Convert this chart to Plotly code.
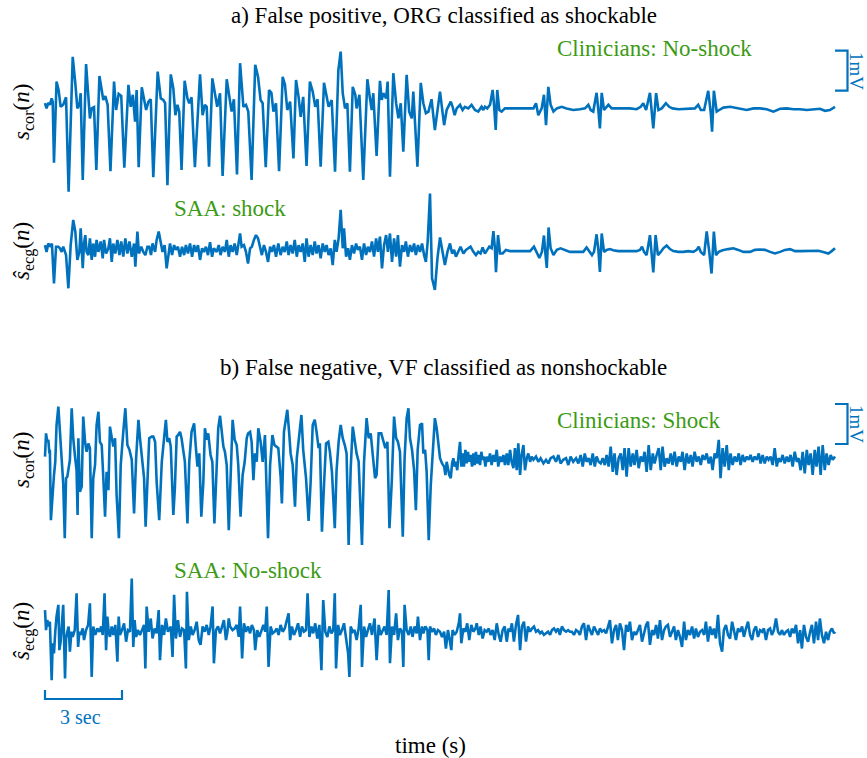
import plotly.graph_objects as go

BLUE = "#0072BD"
GREEN = "#3C9A14"
FONT = "Liberation Serif"
W, H = 867, 758

# ---- data: (time [s], amplitude [mV]) ----
a_cor = [
    (0.00, 0.12), (0.06, -0.01), (0.13, 0.13), (0.19, 0.08), (0.26, 0.24), (0.30, 0.16), (0.35, -1.37), (0.45, 0.66), (0.53, 0.45), (0.61, 0.03),
    (0.71, 0.08), (0.82, 0.27), (0.92, -2.09), (1.08, 1.28), (1.18, 0.62), (1.26, -0.01), (1.34, 0.08), (1.39, 0.37), (1.47, -1.80), (1.60, 1.10),
    (1.69, 0.28), (1.75, -0.26), (1.82, -0.01), (1.91, 0.02), (2.00, -1.55), (2.12, 0.80), (2.21, 0.45), (2.27, 0.20), (2.35, 0.30), (2.44, 0.08),
    (2.55, -1.58), (2.69, 0.66), (2.77, -0.05), (2.87, 0.35), (2.97, 0.30), (3.09, -1.49), (3.25, 0.58), (3.34, 0.03), (3.42, 0.33), (3.51, -0.34),
    (3.57, 0.45), (3.65, -1.48), (3.77, 0.52), (3.86, 0.24), (3.94, -0.05), (4.03, 0.16), (4.12, 0.22), (4.22, -1.73), (4.39, 0.91), (4.51, 0.24),
    (4.61, 0.20), (4.68, 0.12), (4.77, -1.93), (4.90, 0.84), (5.00, 0.49), (5.08, -0.18), (5.16, 0.08), (5.23, -0.09), (5.32, -1.55), (5.44, 0.68),
    (5.55, 0.24), (5.62, 0.12), (5.71, 0.27), (5.84, -1.48), (6.04, 0.84), (6.14, -0.18), (6.23, 0.08), (6.30, 0.03), (6.39, -1.47), (6.52, 0.74),
    (6.62, 0.33), (6.71, 0.03), (6.82, 0.37), (6.92, -1.70), (7.08, 0.72), (7.18, 0.33), (7.27, -0.09), (7.36, 0.22), (7.48, -1.66), (7.60, 1.12),
    (7.73, 0.03), (7.83, 0.08), (7.92, -0.09), (8.05, -1.80), (8.19, 1.08), (8.30, 0.78), (8.40, 0.20), (8.48, 0.12), (8.60, -1.48), (8.73, 0.45),
    (8.82, 0.38), (8.90, -0.09), (9.00, 0.12), (9.12, -1.58), (9.26, 0.78), (9.35, 0.58), (9.44, -0.05), (9.55, 0.16), (9.68, -1.26), (9.78, 0.70),
    (9.88, 0.28), (9.96, -0.22), (10.06, 0.28), (10.19, -1.45), (10.32, 0.66), (10.43, 0.41), (10.53, 0.03), (10.62, 0.22), (10.74, -1.47), (10.87, 0.63),
    (10.97, 0.28), (11.05, 0.03), (11.17, 0.20), (11.30, -1.59), (11.43, 0.95), (11.52, 1.41), (11.60, 0.37), (11.69, -0.01), (11.78, 0.12), (11.88, -1.59),
    (11.99, 0.53), (12.09, 0.33), (12.14, -0.01), (12.25, 0.33), (12.40, -1.80), (12.56, 0.72), (12.66, 0.24), (12.73, -0.05), (12.79, 0.37), (12.92, -1.20),
    (13.05, 0.68), (13.12, 0.20), (13.18, 0.37), (13.29, 0.24), (13.35, 0.66), (13.44, -1.72), (13.57, 0.87), (13.68, 0.12), (13.77, -0.26), (13.86, 0.12),
    (13.96, -1.09), (14.09, 0.83), (14.19, -0.09), (14.29, -0.26), (14.35, 0.41), (14.51, -1.47), (14.64, 0.63), (14.74, 0.12), (14.84, -0.13), (14.94, -0.09),
    (15.06, 0.22), (15.19, -0.55),
    (15.39, 0.41), (15.47, 0.03), (15.55, -0.43), (15.65, -0.05), (15.81, 0.16), (15.88, 0.03), (15.96, -0.18), (16.04, -0.01), (16.17, 0.08), (16.27, -0.05),
    (16.36, 0.03), (16.49, -0.01), (16.62, 0.08), (16.75, -0.05), (16.88, -0.09), (17.01, 0.03), (17.08, -0.05), (17.14, 0.03), (17.23, -0.01), (17.34, 0.08),
    (17.44, 0.45), (17.49, 0.12), (17.56, -0.55), (17.62, 0.45), (17.70, -0.05), (17.79, -0.09), (17.92, -0.01), (18.12, -0.01), (18.38, -0.01), (18.77, -0.01),
    (19.03, -0.01), (19.13, 0.12), (19.22, -0.18), (19.35, -0.01), (19.44, 0.33), (19.52, -0.43), (19.61, 0.53), (19.70, 0.08), (19.81, -0.09), (19.94, -0.01),
    (20.13, 0.03), (20.32, -0.01), (20.58, -0.05), (20.84, -0.03), (21.04, -0.01), (21.17, 0.08), (21.26, -0.05), (21.36, -0.09), (21.49, 0.38), (21.56, -0.05),
    (21.62, -0.51), (21.69, 0.38), (21.78, -0.05), (21.95, 0.08), (22.08, -0.01), (22.27, -0.01), (22.53, -0.01), (22.79, -0.01), (23.05, -0.03), (23.21, 0.03),
    (23.31, 0.12), (23.42, -0.05), (23.57, 0.38), (23.64, -0.18), (23.70, -0.51), (23.81, 0.37), (23.90, -0.05), (24.03, -0.01), (24.19, 0.12), (24.32, 0.03),
    (24.45, -0.01), (24.68, -0.03), (24.94, -0.02), (25.13, -0.03), (25.32, -0.01), (25.45, 0.08), (25.55, -0.05), (25.68, -0.05), (25.84, 0.43), (25.94, -0.13),
    (25.99, -0.59), (26.06, 0.43), (26.17, -0.09), (26.27, -0.05), (26.43, 0.01), (26.69, 0.03), (26.88, 0.01), (27.08, -0.03), (27.34, -0.05), (27.60, -0.01),
    (27.86, -0.01), (28.12, -0.03), (28.38, -0.09), (28.64, -0.02), (28.90, -0.01), (29.16, -0.03), (29.42, -0.03), (29.68, -0.05), (29.94, -0.03), (30.19, -0.02),
    (30.39, -0.07), (30.58, -0.05), (30.78, 0.03),
]

a_ecg = [
    (0.00, 0.14), (0.06, -0.03), (0.13, 0.18), (0.22, 0.10), (0.27, 0.18), (0.35, -0.82), (0.43, 0.10), (0.52, 0.10), (0.58, 0.06), (0.65, -0.03),
    (0.71, 0.10), (0.82, -0.11), (0.91, -0.94), (1.00, 0.14), (1.10, 0.77), (1.18, 0.48), (1.26, -0.23), (1.34, -0.03), (1.39, 0.56), (1.47, -0.44),
    (1.52, 0.18), (1.57, 0.39), (1.62, -0.03), (1.69, -0.11), (1.75, 0.31), (1.82, -0.23), (1.88, 0.18), (1.95, -0.15), (2.01, 0.27), (2.08, -0.03),
    (2.17, 0.23), (2.25, -0.19), (2.30, 0.27), (2.38, -0.07), (2.47, 0.06), (2.53, 0.31), (2.60, -0.28), (2.66, 0.18), (2.74, -0.07), (2.82, 0.27),
    (2.90, -0.11), (2.97, 0.23), (3.05, -0.15), (3.13, 0.31), (3.21, -0.07), (3.29, 0.23), (3.38, -0.15), (3.47, 0.18), (3.52, -0.40), (3.60, 0.48),
    (3.66, -0.07), (3.75, 0.10), (3.83, -0.03), (3.91, -0.11), (3.99, 0.10), (4.06, 0.10), (4.13, -0.11), (4.19, 0.18), (4.29, -0.03), (4.35, 0.27),
    (4.43, 0.48), (4.51, 0.23), (4.58, -0.03), (4.66, 0.14), (4.74, -0.44), (4.81, -0.11), (4.87, 0.18), (4.95, -0.11), (5.03, 0.14), (5.10, 0.02),
    (5.18, 0.10), (5.26, -0.15), (5.34, 0.10), (5.42, -0.11), (5.49, 0.14), (5.57, -0.07), (5.65, 0.18), (5.73, -0.15), (5.81, 0.14), (5.88, -0.03),
    (5.96, 0.14), (6.04, -0.23), (6.12, 0.06), (6.19, -0.03), (6.27, 0.10), (6.35, -0.11), (6.43, 0.21), (6.51, -0.15), (6.58, 0.06), (6.69, -0.03),
    (6.77, 0.14), (6.84, -0.11), (6.92, 0.10), (7.01, -0.03), (7.08, 0.27), (7.16, -0.15), (7.23, 0.14), (7.31, -0.03), (7.39, 0.18), (7.47, -0.11),
    (7.55, 0.31), (7.60, 0.43), (7.66, 0.10), (7.75, 0.14), (7.83, -0.03), (7.91, -0.32), (7.99, 0.06), (8.06, 0.10), (8.14, 0.27), (8.22, 0.39),
    (8.30, 0.31), (8.38, 0.10), (8.45, -0.11), (8.53, 0.14), (8.61, -0.03), (8.69, -0.28), (8.77, 0.10), (8.84, -0.03), (8.92, 0.14), (9.00, -0.15),
    (9.09, 0.18), (9.18, -0.11), (9.26, 0.10), (9.34, -0.03), (9.42, 0.23), (9.49, -0.11), (9.57, 0.14), (9.65, -0.07), (9.73, 0.27), (9.81, -0.15),
    (9.88, 0.14), (9.96, -0.03), (10.04, 0.18), (10.12, -0.28), (10.19, 0.31), (10.27, -0.15), (10.35, 0.14), (10.43, -0.11), (10.51, 0.23), (10.58, -0.07),
    (10.66, 0.14), (10.74, -0.19), (10.82, 0.18), (10.90, -0.03), (10.97, 0.14), (11.05, -0.11), (11.13, 0.06), (11.21, -0.36), (11.29, 0.27), (11.36, -0.03),
    (11.44, 0.31), (11.52, 1.02), (11.60, 0.06), (11.65, 0.56), (11.73, -0.15), (11.81, 0.06), (11.88, -0.23), (11.96, 0.14), (12.04, -0.07), (12.12, 0.18),
    (12.19, 0.02), (12.27, 0.10), (12.35, -0.23), (12.43, 0.18), (12.51, -0.11), (12.58, 0.10), (12.66, -0.03), (12.74, 0.23), (12.82, -0.15), (12.90, 0.31),
    (12.97, -0.03), (13.05, 0.35), (13.13, -0.44), (13.21, 0.14), (13.29, 0.39), (13.36, -0.03), (13.44, 0.43), (13.52, -0.28), (13.60, 0.31), (13.68, -0.15),
    (13.75, 0.39), (13.83, -0.40), (13.91, 0.14), (13.99, -0.03), (14.06, 0.23), (14.14, -0.15), (14.22, 0.14), (14.30, -0.03), (14.38, 0.18), (14.45, -0.11),
    (14.53, 0.14), (14.61, -0.03), (14.69, 0.18), (14.77, -0.11), (14.84, -0.28), (14.91, 0.23), (15.00, 1.43), (15.08, -0.69),
    (15.19, -0.98), (15.29, -0.19), (15.39, 0.33), (15.49, -0.03), (15.58, -0.36), (15.68, -0.03), (15.78, 0.18), (15.86, -0.07), (15.94, 0.02), (16.01, -0.15),
    (16.12, 0.02), (16.19, 0.10), (16.30, -0.07), (16.40, 0.02), (16.49, 0.06), (16.58, 0.10), (16.69, -0.03), (16.79, -0.11), (16.88, -0.03), (16.97, -0.07),
    (17.05, 0.08), (17.14, -0.07), (17.23, 0.02), (17.31, 0.10), (17.40, 0.06), (17.47, 0.49), (17.53, 0.06), (17.57, -0.54), (17.65, 0.39), (17.73, -0.07),
    (17.83, -0.07), (17.96, 0.02), (18.12, -0.01), (18.38, -0.01), (18.64, -0.01), (18.90, -0.01), (19.05, 0.10), (19.16, -0.07), (19.26, -0.18), (19.36, -0.03),
    (19.44, 0.38), (19.49, -0.03), (19.55, -0.43), (19.62, 0.58), (19.70, 0.06), (19.81, -0.11), (19.94, 0.02), (20.09, 0.06), (20.26, 0.02), (20.45, -0.03),
    (20.71, -0.03), (20.97, -0.03), (21.10, 0.08), (21.21, -0.03), (21.31, -0.11), (21.39, -0.03), (21.49, 0.41), (21.56, 0.02), (21.62, -0.53), (21.69, 0.43),
    (21.78, -0.03), (21.88, 0.02), (22.01, 0.04), (22.14, 0.01), (22.34, -0.01), (22.60, -0.01), (22.86, -0.01), (23.05, -0.01), (23.18, 0.02), (23.26, 0.10),
    (23.34, -0.03), (23.44, -0.11), (23.57, 0.39), (23.62, -0.03), (23.70, -0.54), (23.79, 0.39), (23.88, -0.11), (23.99, -0.03), (24.09, 0.06), (24.22, 0.13),
    (24.35, 0.04), (24.48, -0.01), (24.68, -0.03), (24.87, -0.03), (25.06, -0.01), (25.26, -0.03), (25.39, 0.02), (25.47, 0.10), (25.55, -0.03), (25.68, -0.11),
    (25.78, 0.48), (25.88, -0.03), (25.97, -0.57), (26.06, 0.48), (26.14, -0.11), (26.25, -0.03), (26.40, 0.01), (26.62, 0.04), (26.82, 0.06), (27.01, 0.02),
    (27.21, -0.03), (27.47, -0.03), (27.66, 0.02), (27.86, 0.03), (28.05, 0.02), (28.25, -0.03), (28.44, -0.07), (28.64, -0.03), (28.83, 0.02), (29.03, 0.04),
    (29.22, -0.01), (29.42, -0.01), (29.68, -0.01), (29.94, 0.00), (30.13, 0.00), (30.32, -0.03), (30.52, -0.07), (30.65, -0.01), (30.78, 0.06),
]

b_cor = [
    (0.00, 0.11), (0.04, 0.69), (0.09, 0.48), (0.13, 0.53), (0.17, 0.19), (0.19, 0.28), (0.23, -1.48), (0.30, -0.68), (0.35, -0.35), (0.40, -0.02),
    (0.45, 0.90), (0.52, 1.36), (0.58, 0.82), (0.65, 0.15), (0.71, -0.56), (0.77, -1.93), (0.82, -0.43), (0.87, -0.39), (0.94, -0.10), (0.97, 0.03),
    (1.04, 1.32), (1.10, 0.57), (1.17, 0.11), (1.23, -0.23), (1.27, -1.35), (1.30, 0.57), (1.36, -0.77), (1.43, -0.64), (1.49, 1.11), (1.56, 0.48),
    (1.62, 0.23), (1.69, 0.44), (1.75, 0.32), (1.82, -1.93), (1.88, -0.43), (1.95, -0.10), (2.01, 0.90), (2.08, 1.23), (2.14, 0.48), (2.21, 0.40),
    (2.27, -0.39), (2.34, -1.39), (2.40, -0.27), (2.47, -0.73), (2.53, 0.86), (2.60, 0.57), (2.66, 0.36), (2.73, 0.57), (2.79, -0.85), (2.88, -1.93),
    (2.95, -0.10), (3.05, 0.73), (3.13, 1.32), (3.21, 0.40), (3.29, 0.28), (3.38, 0.03), (3.47, -1.31), (3.55, 0.07), (3.64, 1.03), (3.70, 0.57),
    (3.78, -0.02), (3.86, -0.43), (3.92, -1.64), (3.99, -0.68), (4.06, 0.57), (4.16, 0.61), (4.22, 0.61), (4.29, 0.48), (4.35, -0.52), (4.45, -1.48),
    (4.55, -0.02), (4.64, 0.57), (4.71, 1.03), (4.77, 0.48), (4.84, 0.57), (4.90, 0.36), (5.00, -1.35), (5.06, -0.68), (5.13, 0.61), (5.19, 0.65),
    (5.26, 0.73), (5.32, 0.57), (5.39, 0.23), (5.45, -0.02), (5.55, -1.56), (5.62, -0.02), (5.71, 0.73), (5.81, 0.94), (5.88, 0.32), (5.94, -0.14),
    (6.01, 0.19), (6.09, -1.39), (6.17, -0.52), (6.23, 0.82), (6.30, 0.53), (6.36, 0.69), (6.45, 0.15), (6.52, -0.02), (6.60, -1.56), (6.69, -0.18),
    (6.75, 0.82), (6.82, 1.13), (6.88, 0.78), (6.95, 0.36), (7.01, 0.23), (7.08, -0.10), (7.16, -1.73), (7.23, -0.52), (7.31, 1.03), (7.39, 0.53),
    (7.47, 0.40), (7.53, -0.10), (7.62, -1.39), (7.70, -0.35), (7.78, -0.02), (7.86, 0.57), (7.91, 0.69), (7.99, 0.73), (8.05, 0.48), (8.12, -0.48),
    (8.18, 0.19), (8.25, -0.02), (8.31, 0.82), (8.40, 0.48), (8.48, -0.02), (8.57, 0.65), (8.69, -1.93), (8.77, -0.10), (8.86, 0.65), (8.94, 0.40),
    (9.00, 0.36), (9.09, 0.32), (9.18, -0.39), (9.23, -1.06), (9.31, 0.73), (9.39, 1.07), (9.44, 1.28), (9.51, 0.73), (9.57, 0.19), (9.65, -0.10),
    (9.74, -1.14), (9.81, 0.07), (9.91, 0.65), (9.99, 1.15), (10.06, 0.28), (10.17, -0.43), (10.27, -1.50), (10.35, -0.52), (10.43, 0.90), (10.51, 1.03),
    (10.58, 0.73), (10.66, 0.32), (10.71, 0.44), (10.79, -1.77), (10.87, -0.60), (10.95, 0.44), (11.04, 0.48), (11.10, 0.23), (11.18, -0.27), (11.29, -1.68),
    (11.36, -0.23), (11.44, 0.48), (11.52, 0.90), (11.60, 0.57), (11.68, 0.40), (11.75, 0.19), (11.83, -2.10), (11.91, -0.18), (11.99, 0.86), (12.06, 0.48),
    (12.14, 0.19), (12.22, -0.02), (12.35, -2.10), (12.43, -0.02), (12.53, 1.07), (12.61, 0.57), (12.69, 0.69), (12.77, 0.15), (12.86, -0.43), (12.92, -0.35),
    (13.00, 0.69), (13.10, 0.69), (13.18, 0.53), (13.26, 0.32), (13.34, 0.48), (13.42, -1.68), (13.51, -0.52), (13.60, 1.11), (13.68, 0.57), (13.75, 0.48),
    (13.83, 0.23), (13.94, -1.89), (14.01, 0.07), (14.09, 1.07), (14.16, 1.32), (14.22, 0.57), (14.30, 0.28), (14.38, -0.23), (14.45, -1.23), (14.52, 0.28),
    (14.61, 0.90), (14.69, 0.94), (14.74, 0.19), (14.81, 0.28), (14.87, -0.27), (14.95, -1.98), (15.03, -0.60), (15.10, 0.23), (15.19, 1.07),
    (15.26, 0.82), (15.32, 0.40), (15.39, 0.07), (15.47, -0.06), (15.55, -0.14), (15.60, -0.35), (15.65, -0.02), (15.70, -0.18), (15.75, -0.35), (15.81, -0.43),
    (15.86, -0.06), (15.91, 0.07), (15.96, -0.14), (16.01, -0.02), (16.06, -0.23), (16.12, 0.19), (16.17, 0.48), (16.22, -0.14), (16.27, 0.19), (16.32, -0.14),
    (16.38, 0.28), (16.43, -0.06), (16.48, 0.23), (16.53, -0.02), (16.58, 0.15), (16.64, -0.14), (16.69, 0.19), (16.74, -0.10), (16.79, 0.23), (16.84, -0.06),
    (16.90, 0.15), (16.95, -0.10), (17.00, 0.23), (17.05, 0.03), (17.10, 0.11), (17.16, -0.14), (17.21, 0.11), (17.27, -0.02), (17.34, 0.19), (17.40, -0.10),
    (17.47, 0.15), (17.53, -0.02), (17.60, 0.28), (17.66, -0.14), (17.73, 0.11), (17.79, -0.02), (17.86, 0.15), (17.92, -0.10), (17.99, 0.19), (18.05, -0.10),
    (18.12, 0.28), (18.18, -0.02), (18.25, -0.18), (18.31, 0.32), (18.38, -0.23), (18.44, 0.44), (18.51, -0.35), (18.57, 0.15), (18.64, 0.40), (18.70, -0.23),
    (18.77, 0.07), (18.83, 0.19), (18.90, -0.02), (18.96, 0.11), (19.03, 0.03), (19.13, 0.11), (19.22, -0.02), (19.31, 0.07), (19.42, -0.06), (19.52, 0.03),
    (19.61, -0.06), (19.70, 0.07), (19.81, 0.11), (19.91, -0.02), (20.00, 0.15), (20.09, -0.06), (20.19, 0.03), (20.30, 0.07), (20.39, -0.10), (20.48, 0.11),
    (20.58, -0.02), (20.69, 0.07), (20.78, -0.06), (20.87, 0.15), (20.95, -0.14), (21.03, 0.19), (21.10, -0.02), (21.18, 0.07), (21.26, -0.10), (21.34, 0.19),
    (21.42, -0.14), (21.49, 0.11), (21.57, -0.02), (21.65, -0.06), (21.73, 0.07), (21.81, -0.10), (21.88, 0.15), (21.96, -0.14), (22.04, 0.36), (22.12, -0.27),
    (22.19, 0.19), (22.27, -0.35), (22.35, 0.07), (22.43, 0.19), (22.51, -0.23), (22.58, 0.32), (22.66, -0.39), (22.74, 0.32), (22.82, -0.14), (22.90, 0.19),
    (22.97, -0.10), (23.05, 0.28), (23.13, -0.18), (23.21, 0.11), (23.29, -0.02), (23.36, 0.23), (23.44, -0.27), (23.52, 0.40), (23.60, -0.23), (23.68, 0.19),
    (23.75, -0.06), (23.83, 0.15), (23.91, 0.32), (23.99, -0.23), (24.06, 0.36), (24.14, -0.14), (24.22, 0.07), (24.30, -0.06), (24.38, 0.19), (24.45, -0.10),
    (24.53, 0.23), (24.61, -0.14), (24.69, 0.11), (24.77, -0.02), (24.84, 0.23), (24.92, -0.23), (25.00, 0.19), (25.08, -0.06), (25.16, 0.15), (25.23, -0.14),
    (25.31, 0.23), (25.39, -0.02), (25.47, 0.11), (25.55, -0.10), (25.62, 0.15), (25.70, 0.03), (25.78, 0.19), (25.86, -0.06), (25.94, 0.11), (26.01, -0.23),
    (26.09, 0.19), (26.17, 0.07), (26.25, 0.53), (26.32, -0.43), (26.40, 0.32), (26.48, -0.14), (26.56, 0.40), (26.64, -0.23), (26.71, 0.19), (26.79, -0.10),
    (26.87, 0.11), (26.95, -0.02), (27.03, 0.19), (27.10, -0.10), (27.18, 0.15), (27.26, -0.02), (27.34, 0.11), (27.42, 0.03), (27.49, 0.15), (27.57, -0.02),
    (27.65, 0.11), (27.73, 0.03), (27.81, 0.19), (27.88, -0.06), (27.96, 0.15), (28.04, -0.06), (28.12, 0.11), (28.19, 0.03), (28.27, 0.11), (28.35, -0.10),
    (28.43, 0.32), (28.51, -0.14), (28.58, 0.07), (28.66, -0.02), (28.74, 0.15), (28.82, -0.06), (28.90, 0.11), (28.97, -0.02), (29.05, 0.15), (29.13, -0.14),
    (29.21, 0.23), (29.29, -0.02), (29.36, 0.07), (29.44, -0.23), (29.52, 0.23), (29.60, -0.31), (29.68, 0.28), (29.75, -0.10), (29.83, 0.19), (29.91, -0.35),
    (29.99, 0.28), (30.06, -0.14), (30.14, 0.36), (30.22, -0.35), (30.30, 0.40), (30.38, -0.23), (30.45, 0.19), (30.53, -0.10), (30.61, 0.15), (30.69, 0.03),
    (30.78, 0.11),
]

b_ecg = [
    (0.00, 0.54), (0.04, 0.04), (0.09, 0.29), (0.14, 0.13), (0.19, 0.25), (0.26, -1.21), (0.30, -0.29), (0.35, -0.54), (0.40, 0.00), (0.45, 0.38),
    (0.52, 0.67), (0.56, -0.46), (0.61, -0.25), (0.65, 0.17), (0.71, 0.67), (0.78, -1.17), (0.82, -0.17), (0.87, 0.00), (0.92, 0.13), (0.97, -0.50),
    (1.03, 0.00), (1.08, -0.13), (1.16, 0.04), (1.23, 0.96), (1.29, -0.38), (1.34, 0.00), (1.39, -0.08), (1.47, 0.08), (1.52, -0.21), (1.60, 0.04),
    (1.68, 0.17), (1.75, 0.71), (1.82, -1.13), (1.88, 0.13), (1.96, -0.08), (2.04, 0.08), (2.12, 0.00), (2.19, 0.13), (2.25, -0.08), (2.32, 0.96),
    (2.38, -0.46), (2.43, 0.38), (2.48, 0.00), (2.53, -0.13), (2.60, 0.13), (2.66, -0.08), (2.74, 0.17), (2.82, -0.75), (2.87, 0.38), (2.92, -0.08),
    (3.00, 0.04), (3.08, 0.21), (3.16, -0.25), (3.23, 0.04), (3.31, 0.00), (3.38, 1.33), (3.44, -0.38), (3.49, 0.29), (3.55, -0.13), (3.62, 0.04),
    (3.70, -0.08), (3.78, 0.04), (3.86, 0.17), (3.91, -0.92), (3.96, 0.63), (4.04, 0.00), (4.12, 0.33), (4.19, -0.17), (4.27, 0.08), (4.35, -0.04),
    (4.43, 0.54), (4.48, -0.71), (4.56, 0.17), (4.64, -0.08), (4.71, 0.33), (4.79, 0.00), (4.90, 0.13), (4.97, -0.63), (5.03, 0.92), (5.10, -0.17),
    (5.18, 0.29), (5.26, -0.13), (5.34, 0.08), (5.42, 0.04), (5.49, -0.92), (5.53, 1.00), (5.60, -0.21), (5.68, 0.13), (5.75, -0.08), (5.83, 0.04),
    (5.91, 0.25), (5.99, -0.21), (6.06, -0.33), (6.14, 0.13), (6.22, 0.00), (6.30, 0.17), (6.38, -0.08), (6.45, 0.13), (6.53, 0.63), (6.58, -0.79),
    (6.66, 0.04), (6.74, 0.13), (6.82, -0.04), (6.90, 0.13), (6.97, 0.29), (7.05, -0.21), (7.10, -0.04), (7.16, 0.33), (7.21, 0.13), (7.31, 0.04),
    (7.39, 0.08), (7.47, 0.17), (7.55, -0.13), (7.60, 0.63), (7.68, -0.67), (7.75, 0.21), (7.83, 0.00), (7.91, 0.13), (7.99, -0.04), (8.06, 0.17),
    (8.14, 0.04), (8.19, -0.46), (8.27, 0.04), (8.35, -0.13), (8.43, 0.04), (8.51, 0.17), (8.58, 0.00), (8.64, 0.63), (8.71, -0.88), (8.79, 0.13),
    (8.87, -0.04), (8.95, 0.00), (9.03, 0.08), (9.10, -0.08), (9.18, 0.17), (9.26, 0.00), (9.34, 0.08), (9.42, 0.29), (9.49, 0.46), (9.55, -0.21),
    (9.62, 0.13), (9.70, -0.08), (9.78, 0.04), (9.86, 0.21), (9.94, -0.13), (10.01, 0.13), (10.09, 0.00), (10.17, 0.04), (10.23, 0.96), (10.30, -0.13),
    (10.38, 0.13), (10.45, -0.04), (10.53, 0.21), (10.61, -0.17), (10.69, 0.17), (10.77, -0.96), (10.84, 0.79), (10.92, 0.00), (11.00, -0.13), (11.08, 0.13),
    (11.16, -0.04), (11.23, 0.04), (11.29, 0.96), (11.34, -0.92), (11.42, 0.17), (11.49, -0.08), (11.57, 0.04), (11.65, 0.21), (11.73, -0.13), (11.81, -0.54),
    (11.86, -1.13), (11.91, 0.13), (11.99, 0.00), (12.06, 0.04), (12.14, -0.21), (12.22, 0.08), (12.30, 0.67), (12.35, -0.88), (12.43, 0.13), (12.51, -0.13),
    (12.58, 0.04), (12.66, 0.21), (12.74, -0.08), (12.84, 0.33), (12.92, -0.71), (13.00, 0.17), (13.08, -0.08), (13.16, 0.04), (13.23, 0.13), (13.31, -0.08),
    (13.39, 1.04), (13.44, -0.79), (13.52, 0.13), (13.60, -0.08), (13.68, 0.46), (13.75, -0.21), (13.83, 0.08), (13.91, 0.00), (13.96, -0.88), (14.01, 0.67),
    (14.09, 0.04), (14.17, -0.08), (14.25, 0.13), (14.32, -0.13), (14.40, 0.13), (14.48, -0.04), (14.53, 0.38), (14.61, -0.21), (14.69, 0.13), (14.74, -0.04),
    (14.82, 0.13), (14.90, 0.04), (14.95, -0.71), (15.00, 0.13), (15.08, 0.00), (15.16, 0.08), (15.23, -0.08), (15.31, 0.04),
    (15.39, 0.00), (15.47, -0.13), (15.55, 0.00), (15.62, -0.42), (15.70, 0.04), (15.78, -0.25), (15.83, -0.46), (15.88, 0.04), (15.96, -0.08), (16.04, 0.00),
    (16.12, 0.21), (16.17, 0.46), (16.22, -0.29), (16.30, 0.08), (16.38, 0.00), (16.45, 0.21), (16.53, -0.21), (16.61, 0.17), (16.69, 0.00), (16.77, 0.08),
    (16.82, 0.21), (16.90, -0.08), (16.97, 0.13), (17.05, -0.17), (17.13, 0.04), (17.21, 0.00), (17.29, 0.08), (17.36, -0.08), (17.44, 0.04), (17.52, -0.21),
    (17.60, 0.21), (17.68, -0.08), (17.75, -0.25), (17.83, 0.04), (17.91, 0.13), (17.99, -0.25), (18.06, 0.08), (18.12, 0.00), (18.19, 0.21), (18.27, -0.25),
    (18.35, 0.17), (18.43, 0.42), (18.51, -0.46), (18.58, 0.13), (18.66, 0.25), (18.74, -0.25), (18.82, 0.13), (18.90, 0.00), (18.97, 0.08), (19.05, 0.13),
    (19.13, 0.00), (19.21, 0.04), (19.29, -0.04), (19.36, 0.00), (19.44, -0.08), (19.52, -0.04), (19.60, 0.00), (19.68, -0.08), (19.75, 0.04), (19.83, 0.08),
    (19.91, 0.00), (19.99, 0.08), (20.06, -0.08), (20.14, 0.13), (20.22, 0.04), (20.30, 0.00), (20.38, 0.04), (20.45, 0.00), (20.53, 0.00), (20.61, -0.08),
    (20.69, 0.04), (20.77, 0.00), (20.84, -0.08), (20.92, 0.13), (21.00, 0.21), (21.08, -0.21), (21.16, 0.17), (21.23, 0.04), (21.31, -0.08), (21.39, 0.13),
    (21.47, 0.00), (21.55, -0.08), (21.62, 0.08), (21.70, 0.00), (21.78, 0.04), (21.86, -0.04), (21.94, 0.13), (22.01, 0.29), (22.09, -0.29), (22.17, 0.04),
    (22.25, 0.17), (22.32, -0.21), (22.40, 0.21), (22.48, 0.04), (22.56, -0.46), (22.64, 0.17), (22.71, 0.00), (22.79, 0.25), (22.87, -0.21), (22.95, 0.00),
    (23.03, -0.08), (23.10, 0.04), (23.18, 0.17), (23.26, -0.25), (23.34, -0.04), (23.42, 0.17), (23.49, 0.25), (23.57, -0.33), (23.65, 0.04), (23.73, -0.08),
    (23.81, 0.17), (23.88, -0.17), (23.96, 0.29), (24.04, -0.21), (24.12, 0.04), (24.19, 0.13), (24.27, 0.17), (24.35, -0.13), (24.43, 0.00), (24.51, 0.13),
    (24.58, -0.21), (24.66, 0.04), (24.74, -0.13), (24.82, -0.38), (24.90, 0.25), (24.97, -0.21), (25.05, 0.04), (25.13, -0.08), (25.21, 0.13), (25.29, -0.17),
    (25.36, 0.08), (25.44, -0.13), (25.52, 0.00), (25.60, 0.04), (25.68, -0.08), (25.75, 0.25), (25.83, -0.25), (25.91, 0.13), (25.99, -0.08), (26.06, 0.08),
    (26.14, -0.17), (26.22, 0.42), (26.30, -0.29), (26.38, -0.50), (26.45, 0.04), (26.53, 0.17), (26.61, -0.08), (26.69, -0.17), (26.77, 0.25), (26.84, 0.04),
    (26.92, -0.21), (27.00, 0.08), (27.08, 0.00), (27.16, 0.13), (27.23, -0.13), (27.31, 0.08), (27.39, 0.25), (27.47, -0.08), (27.55, -0.21), (27.62, 0.04),
    (27.70, 0.13), (27.78, -0.13), (27.86, 0.04), (27.94, 0.00), (28.01, 0.08), (28.09, -0.21), (28.17, 0.04), (28.25, 0.08), (28.32, -0.08), (28.40, 0.04),
    (28.48, 0.33), (28.56, 0.00), (28.64, -0.08), (28.71, 0.04), (28.79, -0.08), (28.87, 0.00), (28.95, 0.04), (29.03, -0.13), (29.10, 0.08), (29.18, -0.04),
    (29.26, 0.17), (29.34, -0.29), (29.42, 0.04), (29.49, -0.42), (29.57, 0.17), (29.65, -0.13), (29.73, -0.25), (29.81, 0.00), (29.88, 0.17), (29.96, -0.29),
    (30.04, 0.25), (30.12, -0.21), (30.19, 0.33), (30.27, -0.08), (30.35, -0.29), (30.43, 0.00), (30.51, -0.21), (30.58, 0.00), (30.66, 0.08), (30.74, -0.04),
    (30.78, 0.00),
]

titles = ["a) False positive, ORG classified as shockable",
          "b) False negative, VF classified as nonshockable"]
clinician_labels = ["Clinicians: No-shock", "Clinicians: Shock"]
saa_labels = ["SAA: shock", "SAA: No-shock"]
ylabels = ["<i>s</i><sub>cor</sub>(<i>n</i>)", "<i>ŝ</i><sub>ecg</sub>(<i>n</i>)"]
time_bar_s = 3
amp_bar_mv = 1

# ---- layout geometry (pixels) ----
X0_PX = 45            # t = 0
PX_PER_S = 77 / 3
PX_PER_MV = 40
panels = [("y", a_cor, 108.0), ("y2", a_ecg, 250.7), ("y3", b_cor, 461.0), ("y4", b_ecg, 631.7)]

def xp(px):
    return px / W

def yp(py):
    return 1 - py / H

fig = go.Figure()
for ax, data, _c in panels:
    t, v = zip(*data)
    fig.add_trace(go.Scatter(x=list(t), y=list(v), mode="lines", yaxis=ax,
                             line=dict(color=BLUE, width=2.6), hoverinfo="skip",
                             showlegend=False))

layout_axes = {}
xr = [(0 - X0_PX) / PX_PER_S, (W - X0_PX) / PX_PER_S]
layout_axes["xaxis"] = dict(range=xr, visible=False, domain=[0, 1], fixedrange=True)
for i, (ax, _d, c) in enumerate(panels):
    key = "yaxis" if ax == "y" else "yaxis" + ax[1:]
    cfg = dict(range=[(c - H) / PX_PER_MV, c / PX_PER_MV], visible=False, domain=[0, 1], fixedrange=True)
    if i > 0:
        cfg["overlaying"] = "y"
    layout_axes[key] = cfg

ann = []
# titles
for txt, py in zip(titles, [15, 368]):
    ann.append(dict(text=txt, x=xp(444), y=yp(py), xanchor="center", yanchor="middle",
                    font=dict(family=FONT, size=23, color="black")))
# green decisions
for txt, py in zip(clinician_labels, [49, 420]):
    ann.append(dict(text=txt, x=xp(555), y=yp(py), xanchor="left", yanchor="middle",
                    font=dict(family=FONT, size=23, color=GREEN)))
for txt, py in zip(saa_labels, [208, 570]):
    ann.append(dict(text=txt, x=xp(172), y=yp(py), xanchor="left", yanchor="middle",
                    font=dict(family=FONT, size=23, color=GREEN)))
# y labels
for txt, py in zip(ylabels * 2, [112, 251, 460, 631]):
    ann.append(dict(text=txt, x=xp(23), y=yp(py), xanchor="center", yanchor="middle",
                    textangle=-90, font=dict(family=FONT, size=23, color="black")))
# x label
ann.append(dict(text="time (s)", x=xp(430), y=yp(745), xanchor="center", yanchor="middle",
                font=dict(family=FONT, size=23, color="black")))
# scale bar labels
ann.append(dict(text=f"{time_bar_s} sec", x=xp(80), y=yp(717), xanchor="center", yanchor="middle",
                font=dict(family=FONT, size=20, color=BLUE)))
for py in [71, 424]:
    ann.append(dict(text=f"{amp_bar_mv}mV", x=xp(857), y=yp(py), xanchor="center", yanchor="middle",
                    textangle=90, font=dict(family=FONT, size=19, color=BLUE)))
for a in ann:
    a.update(xref="paper", yref="paper", showarrow=False)

shapes = []
# 3 sec bar (data x, paper y)
shapes.append(dict(type="path", xref="x", yref="paper",
                   path=f"M 0,{yp(690)} L 0,{yp(699)} L {time_bar_s},{yp(699)} L {time_bar_s},{yp(690)}",
                   line=dict(color=BLUE, width=2.2)))
# 1 mV brackets (data y)
tx0 = (835 - X0_PX) / PX_PER_S
tx1 = (847.5 - X0_PX) / PX_PER_S
for ax, top_py, c in [("y", 50.7, 108.0), ("y3", 404.0, 461.0)]:
    top = (c - top_py) / PX_PER_MV
    bot = top - amp_bar_mv
    shapes.append(dict(type="path", xref="x", yref=ax,
                       path=f"M {tx0},{top} L {tx1},{top} L {tx1},{bot} L {tx0},{bot}",
                       line=dict(color=BLUE, width=2.2)))

fig.update_layout(width=W, height=H, margin=dict(l=0, r=0, t=0, b=0),
                  paper_bgcolor="white", plot_bgcolor="white",
                  annotations=ann, shapes=shapes, **layout_axes)

fig.write_html("out.html", config={"displayModeBar": False})
